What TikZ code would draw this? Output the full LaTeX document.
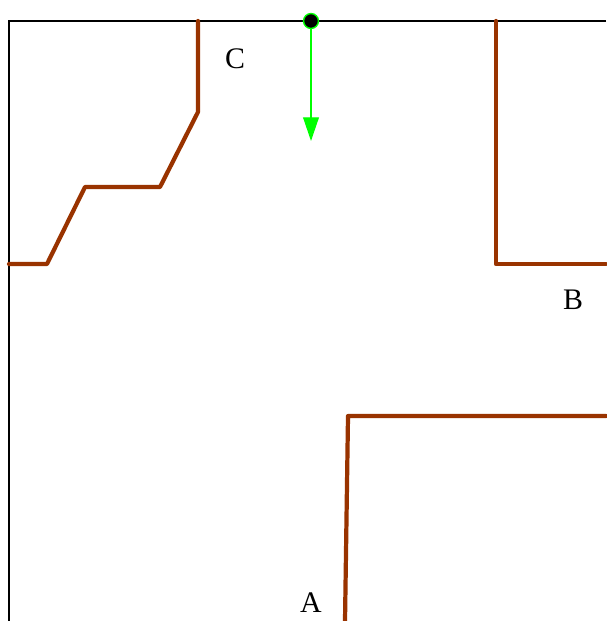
\documentclass[tikz,border=0pt]{standalone}
\usepackage{fontspec}
\setmainfont{Liberation Serif}
\usetikzlibrary{arrows.meta}
\definecolor{wall}{HTML}{993300}
\definecolor{frameline}{HTML}{000000}
\definecolor{flow}{HTML}{00FF00}

\begin{document}
\begin{tikzpicture}[
  x=0.02cm,
  y=-0.02cm,
  font=\fontsize{17}{20}\selectfont,
  frame/.style={draw=frameline, line width=0.8pt},
  boundary/.style={draw=wall, line width=2.4pt, line cap=round, line join=round},
  flowarrow/.style={draw=flow, line width=0.8pt, -{Triangle[length=13.5pt, width=9pt]}},
  source/.style={circle, draw=flow, fill=black, line width=0.8pt, inner sep=0pt, minimum size=8.5pt},
  tag/.style={text=black, inner sep=0pt}
]
\useasboundingbox (0,0) rectangle (606,621);

% Domain frame
\draw[frame] (606,21) -- (9,21) -- (9,621);

% Boundaries
\draw[boundary] (9,264) -- (47,264) -- (85,187) -- (160,187) -- (198,112) -- (198,21);
\draw[boundary] (496,21) -- (496,264) -- (606,264);
\draw[boundary] (345,621) -- (348,416) -- (606,416);

% Labels
\node[tag] (labelC) at (235,59) {C};
\node[tag] (labelB) at (573,300) {B};
\node[tag] (labelA) at (311,603) {A};

% Inflow
\coordinate (inflowend) at (311,141);
\draw[flowarrow] (311,21) -- (inflowend);
\node[source] (inlet) at (311,21) {};

\end{tikzpicture}
\end{document}
